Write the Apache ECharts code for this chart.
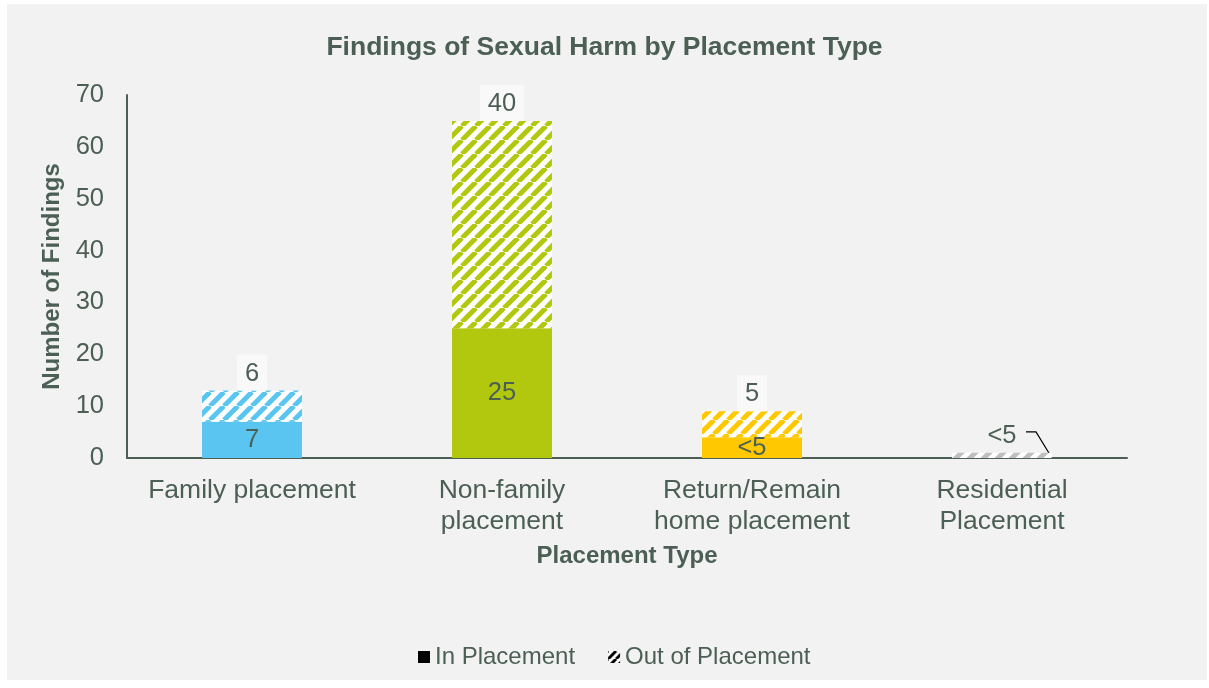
<!DOCTYPE html>
<html>
<head>
<meta charset="utf-8">
<script src="https://cdn.jsdelivr.net/npm/echarts@6/dist/echarts.min.js"></script>
<style>
  html, body { margin: 0; padding: 0; background: #ffffff; }
  #panel { position: absolute; left: 7px; top: 4px; width: 1200px; height: 676px; background: #f2f2f2; }
  #chart { position: absolute; left: 0; top: 0; width: 1209px; height: 688px; }
</style>
</head>
<body>
<div id="panel"></div>
<div id="chart"></div>
<script>
// data
const categories = ['Family placement', 'Non-family\nplacement', 'Return/Remain\nhome placement', 'Residential\nPlacement'];
const inPlacement = [7, 25, 4, 0];
const outPlacement = [6, 40, 5, 1];
const inLabels = ['7', '25', '<5', ''];
const outLabels = ['6', '40', '5', '<5'];
const barColors = ['#5bc5f2', '#b2c80e', '#ffc800', '#bfbfbf'];
const yTicks = [0, 10, 20, 30, 40, 50, 60, 70];

const textColor = '#4b5f55';
const fontFamily = 'Liberation Sans, Arial, sans-serif';

// diagonal hatch pattern, colored stripes on white
function makeHatch(color, size, lw) {
  const c = document.createElement('canvas');
  c.width = size;
  c.height = size;
  const ctx = c.getContext('2d');
  ctx.fillStyle = '#ffffff';
  ctx.fillRect(0, 0, size, size);
  ctx.strokeStyle = color;
  ctx.lineWidth = lw;
  [-size, 0, size].forEach(function (off) {
    ctx.beginPath();
    ctx.moveTo(off, size);
    ctx.lineTo(off + size, 0);
    ctx.stroke();
  });
  return {image: c, repeat: 'repeat'};
}

const chart = echarts.init(document.getElementById('chart'));

const inData = inPlacement.map(function (v, i) {
  return {value: v, itemStyle: {color: barColors[i]}};
});
const outData = outPlacement.map(function (v, i) {
  const item = {value: v, itemStyle: {color: makeHatch(barColors[i], 14, 5)}};
  if (i === categories.length - 1) {
    item.label = {backgroundColor: 'transparent'};
  }
  return item;
});

const option = {
  backgroundColor: 'transparent',
  textStyle: {fontFamily: fontFamily},
  title: {
    text: 'Findings of Sexual Harm by Placement Type',
    left: 'center',
    top: 29,
    textStyle: {color: textColor, fontSize: 26.5, fontWeight: 'bold', fontFamily: fontFamily}
  },
  legend: {
    top: 640,
    left: 413,
    itemWidth: 12,
    itemHeight: 12,
    itemGap: 33,
    icon: 'rect',
    textStyle: {color: textColor, fontSize: 24, fontFamily: fontFamily},
    data: [
      {name: 'In Placement', itemStyle: {color: '#000000'}},
      {name: 'Out of Placement', itemStyle: {color: makeHatch('#000000', 8, 3)}}
    ]
  },
  grid: {left: 127, right: 82, top: 95, bottom: 230, containLabel: false},
  xAxis: {
    type: 'category',
    data: categories,
    name: 'Placement Type',
    nameLocation: 'middle',
    nameGap: 86,
    nameTextStyle: {color: textColor, fontSize: 24, fontWeight: 'bold', fontFamily: fontFamily},
    axisLine: {lineStyle: {color: textColor, width: 2}},
    axisTick: {show: false},
    axisLabel: {color: textColor, fontSize: 26.5, lineHeight: 31, margin: 17, interval: 0, fontFamily: fontFamily}
  },
  yAxis: {
    type: 'value',
    min: yTicks[0],
    max: yTicks[yTicks.length - 1],
    interval: 10,
    name: 'Number of Findings',
    nameLocation: 'middle',
    nameGap: 58,
    nameTextStyle: {color: textColor, fontSize: 24, fontWeight: 'bold', fontFamily: fontFamily},
    axisLine: {show: true, lineStyle: {color: textColor, width: 2}},
    axisTick: {show: false},
    splitLine: {show: false},
    axisLabel: {color: textColor, fontSize: 25.5, margin: 23, fontFamily: fontFamily}
  },
  series: [
    {
      name: 'In Placement',
      type: 'bar',
      stack: 'total',
      barWidth: 100,
      itemStyle: {color: '#000000'},
      label: {
        show: true,
        position: 'inside',
        color: textColor,
        fontSize: 25.5,
        fontFamily: fontFamily,
        formatter: function (p) { return inLabels[p.dataIndex]; }
      },
      data: inData
    },
    {
      name: 'Out of Placement',
      type: 'bar',
      stack: 'total',
      barWidth: 100,
      itemStyle: {color: makeHatch('#000000', 8, 3)},
      label: {
        show: true,
        position: 'top',
        distance: 0,
        color: textColor,
        fontSize: 25.5,
        fontFamily: fontFamily,
        backgroundColor: '#f9f9f9',
        padding: [6, 8, 4, 8],
        formatter: function (p) { return outLabels[p.dataIndex]; }
      },
      data: outData
    }
  ]
};

chart.setOption(option);

// leader line for the residential label, placed from the axis scales
function drawLeader() {
  const last = categories.length - 1;
  const top = chart.convertToPixel({seriesIndex: 1}, [last, inPlacement[last] + outPlacement[last]]);
  const base = chart.convertToPixel({seriesIndex: 1}, [last, 0]);
  const halfBar = 50;
  const ly = top[1] - 21;
  chart.setOption({
    graphic: [{
      type: 'polyline',
      silent: true,
      shape: {points: [[top[0] + 24, ly], [top[0] + 34, ly], [top[0] + halfBar, base[1]]]},
      style: {stroke: '#000000', lineWidth: 1.2, fill: null}
    }]
  });
}
drawLeader();
</script>
</body>
</html>
